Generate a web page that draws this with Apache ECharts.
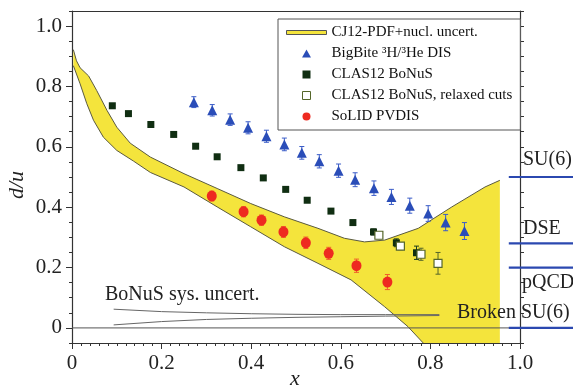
<!DOCTYPE html>
<html><head><meta charset="utf-8">
<script src="https://cdn.jsdelivr.net/npm/echarts@6/dist/echarts.min.js"></script>
<style>html,body{margin:0;padding:0;background:#fff}#c{width:573px;height:386px}</style>
</head><body><div id="c"></div>
<script>
// ---- data ----
const bandUpper = [[0.003,0.922],[0.010,0.885],[0.018,0.862],[0.037,0.835],[0.055,0.787],[0.078,0.721],[0.100,0.665],[0.130,0.612],[0.175,0.566],[0.250,0.511],[0.324,0.462],[0.399,0.412],[0.474,0.368],[0.549,0.330],[0.608,0.297],[0.653,0.285],[0.698,0.291],[0.773,0.330],[0.848,0.401],[0.922,0.467],[0.955,0.489]];
const bandLower = [[0.003,0.869],[0.018,0.809],[0.033,0.743],[0.048,0.688],[0.070,0.632],[0.100,0.588],[0.137,0.553],[0.175,0.515],[0.250,0.467],[0.324,0.401],[0.399,0.335],[0.474,0.269],[0.549,0.214],[0.623,0.159],[0.698,0.070],[0.750,0.004],[0.784,-0.05]];
const bandEndX = 0.955;

const bbX = [0.272,0.313,0.353,0.393,0.434,0.474,0.513,0.552,0.595,0.632,0.674,0.713,0.754,0.795,0.834,0.876];
const bbY = [0.748,0.721,0.690,0.663,0.635,0.608,0.580,0.552,0.521,0.491,0.463,0.434,0.405,0.379,0.349,0.321];
const bbErr = [0.018,0.019,0.019,0.020,0.020,0.021,0.021,0.022,0.022,0.023,0.024,0.025,0.025,0.026,0.027,0.028];

const bnX = [0.090,0.126,0.176,0.227,0.276,0.324,0.377,0.427,0.477,0.525,0.578,0.627,0.673,0.724,0.769];
const bnY = [0.736,0.710,0.674,0.641,0.602,0.567,0.531,0.497,0.459,0.423,0.387,0.349,0.318,0.282,0.249];
const bnErr = [0.004,0.004,0.004,0.004,0.004,0.005,0.005,0.005,0.006,0.006,0.007,0.008,0.010,0.013,0.022];

const rxX = [0.685,0.733,0.779,0.817];
const rxY = [0.307,0.271,0.244,0.214];
const rxErr = [0.008,0.012,0.020,0.036];

const slX = [0.312,0.383,0.423,0.472,0.522,0.573,0.635,0.704];
const slY = [0.437,0.385,0.357,0.318,0.282,0.247,0.206,0.152];
const slErr = [0.016,0.017,0.017,0.018,0.019,0.020,0.022,0.025];

const sysUpper = [[0.093,0.062],[0.2,0.054],[0.3,0.050],[0.4,0.047],[0.5,0.045],[0.6,0.044],[0.7,0.044],[0.82,0.044]];
const sysLower = [[0.093,0.010],[0.2,0.021],[0.3,0.028],[0.4,0.032],[0.5,0.035],[0.6,0.037],[0.7,0.039],[0.82,0.041]];

const predNames = ['SU(6)','DSE','pQCD','Broken SU(6)'];
const predValues = [0.5, 0.28, 0.2, 0];
const predRange = [0.975, 1.14];

const xTicks = [0,0.2,0.4,0.6,0.8,1.0];
const yTicks = [0,0.2,0.4,0.6,0.8,1.0];
const yMinor = [];
for (let i=-1;i<=21;i++){ const v=+(i*0.05).toFixed(2); if (v>=-0.05 && v<=1.05) yMinor.push(v); }

// ---- chart ----
const FONT = '"Liberation Serif", "Times New Roman", serif';
const YEL = '#f4e43c';
const chart = echarts.init(document.getElementById('c'), null, {renderer:'canvas'});

function zip(xs, ys, es){ return xs.map((x,i)=> es ? [x, ys[i], es[i]] : [x, ys[i]]); }

function errRender(color){
  return function(params, api){
    const x = api.value(0), y = api.value(1), e = api.value(2);
    const t = api.coord([x, y+e]), b = api.coord([x, y-e]);
    const w = 2.5;
    return {type:'group', children:[
      {type:'line', shape:{x1:t[0],y1:t[1],x2:b[0],y2:b[1]}, style:{stroke:color, lineWidth:1}},
      {type:'line', shape:{x1:t[0]-w,y1:t[1],x2:t[0]+w,y2:t[1]}, style:{stroke:color, lineWidth:1}},
      {type:'line', shape:{x1:b[0]-w,y1:b[1],x2:b[0]+w,y2:b[1]}, style:{stroke:color, lineWidth:1}}
    ]};
  };
}

const series = [];
series.push({
  name:'CJ12-PDF+nucl. uncert.', type:'custom', data:[[0,0]], z:1, silent:true,
  renderItem:function(params, api){
    const pts = bandUpper.map(p=>api.coord(p));
    pts.push(api.coord([bandEndX, -0.05]));
    for (let i=bandLower.length-1;i>=0;i--) pts.push(api.coord(bandLower[i]));
    return {type:'polygon', shape:{points:pts}, style:{fill:YEL}};
  }
});
series.push({name:'bandU', type:'line', data:bandUpper, symbol:'none', lineStyle:{color:'#5a5a40', width:1}, z:2, silent:true});
series.push({name:'bandL', type:'line', data:bandLower, symbol:'none', lineStyle:{color:'#5a5a40', width:1}, z:2, silent:true});
series.push({name:'zero', type:'line', data:[[0,0],[1,0]], symbol:'none', lineStyle:{color:'#555', width:1}, z:2, silent:true});
series.push({name:'sysU', type:'line', data:sysUpper, symbol:'none', lineStyle:{color:'#666', width:1}, z:2, silent:true});
series.push({name:'sysL', type:'line', data:sysLower, symbol:'none', lineStyle:{color:'#666', width:1}, z:2, silent:true});
series.push({name:'pred', type:'custom', data:predValues.map(v=>[predRange[0], v, predRange[1]]), z:6, silent:true, clip:false,
  renderItem:function(params, api){
    const a = api.coord([api.value(0), api.value(1)]);
    const b = api.coord([api.value(2), api.value(1)]);
    return {type:'line', shape:{x1:a[0],y1:a[1],x2:b[0],y2:b[1]}, style:{stroke:'#2b48b0', lineWidth:2.2}};
  }
});
series.push({name:'bbErr', type:'custom', data:zip(bbX,bbY,bbErr), renderItem:errRender('#3a5cc8'), z:4, silent:true});
series.push({name:'bnErr', type:'custom', data:zip(bnX,bnY,bnErr), renderItem:errRender('#1c3a1c'), z:4, silent:true});
series.push({name:'rxErr', type:'custom', data:zip(rxX,rxY,rxErr), renderItem:errRender('#55662a'), z:4, silent:true});
series.push({name:'slErr', type:'custom', data:zip(slX,slY,slErr), renderItem:errRender('#f0602a'), z:4, silent:true});

series.push({name:'BigBite ³H/³He DIS', type:'scatter', data:zip(bbX,bbY), symbol:'triangle', symbolSize:[10,10],
  itemStyle:{color:'#2a4db8', opacity:1}, z:5, silent:true});
series.push({name:'CLAS12 BoNuS', type:'scatter', data:zip(bnX,bnY), symbol:'rect', symbolSize:7,
  itemStyle:{color:'#102e12', opacity:1}, z:5, silent:true});
series.push({name:'CLAS12 BoNuS, relaxed cuts', type:'scatter', data:zip(rxX,rxY), symbol:'rect', symbolSize:8,
  itemStyle:{color:'#ffffff', borderColor:'#55662a', borderWidth:1.2, opacity:1}, z:5, silent:true});
series.push({name:'SoLID PVDIS', type:'scatter', data:zip(slX,slY), symbol:'circle', symbolSize:[10,11],
  itemStyle:{color:'#ee2a20', opacity:1}, z:5, silent:true});

const axisLineStyle = {color:'#333', width:1.2};
chart.setOption({
  animation:false,
  backgroundColor:'#fff',
  grid:{left:72, right:53, top:11, bottom:43, containLabel:false},
  xAxis:[
    {type:'value', min:0, max:1, interval:0.2, position:'bottom',
      axisLine:{show:true, onZero:false, lineStyle:axisLineStyle},
      axisTick:{show:true, inside:false, length:6, lineStyle:{color:'#333'}},
      minorTick:{show:true, splitNumber:10, length:3, lineStyle:{color:'#333'}},
      axisLabel:{show:true, margin:10, fontFamily:FONT, fontSize:21, color:'#222',
        formatter:v=> v===0?'0':v.toFixed(1)},
      splitLine:{show:false}, minorSplitLine:{show:false}},
    {type:'value', min:0, max:1, position:'top',
      axisLine:{show:true, onZero:false, lineStyle:axisLineStyle},
      axisTick:{show:false}, axisLabel:{show:false}, splitLine:{show:false}}
  ],
  yAxis:[
    {type:'value', min:-0.05, max:1.05, position:'left',
      axisLine:{show:true, onZero:false, lineStyle:axisLineStyle},
      axisTick:{show:true, inside:false, length:6, customValues:yTicks, lineStyle:{color:'#333'}},
      axisLabel:{show:true, margin:10, customValues:yTicks, fontFamily:FONT, fontSize:21, color:'#222',
        formatter:v=> Math.abs(v)<1e-9?'0':v.toFixed(1)},
      splitLine:{show:false}},
    {type:'value', min:-0.05, max:1.05, position:'left',
      axisLine:{show:false},
      axisTick:{show:true, inside:false, length:3, customValues:yMinor, lineStyle:{color:'#333'}},
      axisLabel:{show:false}, splitLine:{show:false}},
    {type:'value', min:-0.05, max:1.05, position:'right',
      axisLine:{show:true, onZero:false, lineStyle:axisLineStyle},
      axisTick:{show:true, inside:false, length:4, customValues:yMinor, lineStyle:{color:'#333'}},
      axisLabel:{show:false}, splitLine:{show:false}}
  ],
  legend:{
    orient:'vertical', left:278, top:19, itemWidth:40, itemHeight:8, itemGap:6,
    padding:[6,8,6,8], borderColor:'#555', borderWidth:1, backgroundColor:'#fff',
    textStyle:{fontFamily:FONT, fontSize:15, color:'#111'},
    selectedMode:false,
    data:[
      {name:'CJ12-PDF+nucl. uncert.', icon:'path://M0,0H40V4H0Z', itemStyle:{color:YEL, borderColor:'#555', borderWidth:1}},
      {name:'BigBite ³H/³He DIS', icon:'path://M5,0L10,9L0,9Z', itemStyle:{color:'#2a4db8', opacity:1}},
      {name:'CLAS12 BoNuS', icon:'path://M0,0H10V10H0Z', itemStyle:{color:'#102e12', opacity:1}},
      {name:'CLAS12 BoNuS, relaxed cuts', icon:'path://M0,0H10V10H0Z', itemStyle:{color:'#ffffff', borderColor:'#55662a', borderWidth:1, opacity:1}},
      {name:'SoLID PVDIS', icon:'circle', itemStyle:{color:'#ee2a20', opacity:1}}
    ]
  },
  graphic:[
    {type:'text', x:105, y:295, z:100, silent:true, style:{text:'BoNuS sys. uncert.', font:'20px '+FONT, fill:'#222', verticalAlign:'middle'}},
    {type:'text', x:523, y:160, z:100, silent:true, style:{text:'SU(6)', font:'20px '+FONT, fill:'#222', verticalAlign:'middle'}},
    {type:'text', x:523, y:229, z:100, silent:true, style:{text:'DSE', font:'20px '+FONT, fill:'#222', verticalAlign:'middle'}},
    {type:'text', x:522, y:283, z:100, silent:true, style:{text:'pQCD', font:'20px '+FONT, fill:'#222', verticalAlign:'middle'}},
    {type:'text', x:457, y:313, z:100, silent:true, style:{text:'Broken SU(6)', font:'20px '+FONT, fill:'#222', verticalAlign:'middle'}},
    {type:'text', x:17, y:185, z:100, rotation:Math.PI/2, silent:true, style:{text:'d/u', font:'italic 22px '+FONT, fill:'#222', align:'center', verticalAlign:'middle'}},
    {type:'text', x:295, y:379, z:100, silent:true, style:{text:'x', font:'italic 22px '+FONT, fill:'#222', align:'center', verticalAlign:'middle'}}
  ],
  series:series
});
</script></body></html>
